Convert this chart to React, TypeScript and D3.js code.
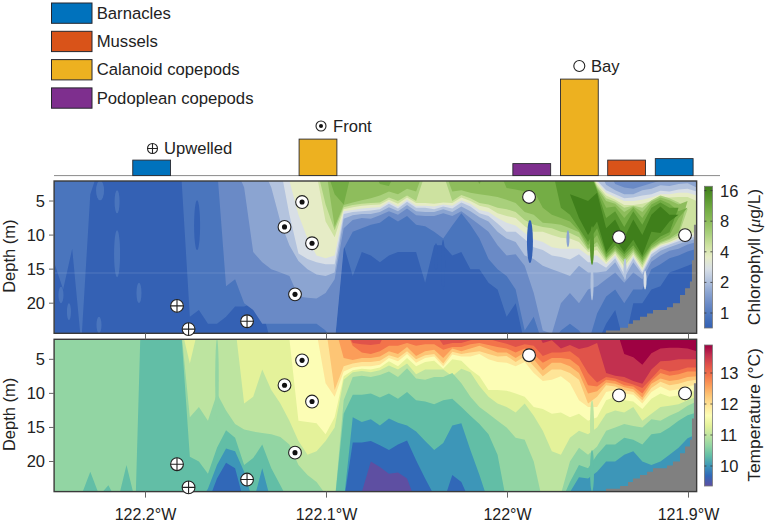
import React from "react";
import * as d3 from "d3";

const FONT = "'Liberation Sans', Arial, sans-serif";
const lonMin = -122.2505, lonMax = -121.8955;
const gridLons = d3.range(72).map(d3.scaleLinear().domain([0, 71]).range([lonMin, lonMax]));
const depthMin = 2.06, depthMax = 24.42;

const xTicks = [-122.2, -122.1, -122, -121.9];
const xTickLabels = ["122.2°W", "122.1°W", "122°W", "121.9°W"];
const depthTicks = [5, 10, 15, 20];
const chlTicks = [1, 2, 4, 8, 16];
const tempTicks = [10, 11, 12, 13];

const chlColors = ["#3461b4", "#4a75bd", "#6a8ac6", "#8ba4d1", "#b3c3de", "#d8dfe6", "#e6ecc6", "#cde2a0", "#a9d07c", "#8ebd5c", "#74ad45", "#58962e", "#3f7f1b"];
const tempColors = ["#5e4fa2", "#3168b8", "#3d96b8", "#62bea6", "#92d5a3", "#bde4a0", "#e4f29a", "#fcfdb5", "#fee598", "#fdc575", "#fb9d59", "#f3734a", "#e0534a", "#c2304f", "#9e0142"];

// isotherm depths (m) per grid column, coldest first
const T1 = [26,26,26,26,26,26,26,26,26,26,26,26, 26,26,26,26,26,26,26,26,26,26,26,26, 26,26,26,26,26,26,26,26,26,26,24.5,20, 20.8,21.8,21.6,22.5,26,26,26,26,26,26,26,26, 26,26,26,26,26,26,26,26,26,26,26,26, 26,26,26,26,26,26,26,26,26,26,26,26];
const T2 = [26,26,26,26,26,26,26,26,26,26,26,26, 26,26,26,26,26,26,22.5,20.2,21,26,26,26, 26,26,26,26,26,26,26,26,26,17.2,17.2,17, 17.6,18.3,17.5,16.9,19.8,22.5,25,26,22,23,26,26, 26,26,26,26,26,26,26,26,26,26,26,26, 26,26,26,26,26,26,26,26,26,26,26,26];
const T3 = [26,26,26,26,26,26,26,26,26,26,26,26, 26,26,26,26,26,24,20.5,18.1,18.5,21.5,26,21, 26,26,26,26,26,26,26,26,26,13.5,14.2,13.8, 14.7,13.7,14.3,14.7,15.6,17,18.3,17.3,14.7,14.4,18.3,22, 26,26,26,26,26,26,26,26,26,24.5,22.3,22.5, 21.5,20,20,19,18.5,20,20.5,20,19,18,16.6,16];
const T4 = [26,26,26,25,21.5,25,23.5,26,20.5,26,-20,-20, -20,-20,0,19.3,20,21.8,18,15.4,16.5,20.5,19.5,17.5, 21,23.5,26,26,26,26,26,26,13,10.2,10.2,10, 10.6,10,10.8,9.8,11,11.2,11.6,11,10.8,12,13.3,14.5, 16,19,26,26,26,26,26,26,26,23,20.5,21, 19,17.5,17.5,16.5,16.8,17.5,16,15.8,15,14,13.2,12.8];
const T5 = [0,0,0,0,0,0,0,0,0,0,0,0, 0,0,0,13.5,12,14,10,12.5,14.5,15.3,15.6,15.8, 16,16.4,17.5,20.5,22,23,24.8,26,11,7.6,7.4,7.6, 7.3,6.8,7.6,6.3,7.8,8,7.6,7.6,7,8.5,10.5,12, 13,14,15,16.5,16.8,20,26,26,24.8,20,18,19, 17.8,15.5,15,14.5,14.8,15,13.8,14,13.3,12.7,11.8,11.2];
const T6 = [0,0,0,0,0,0,0,0,0,0,0,0, 0,0,0,5.6,0,0,0,0,0,11.5,10.5,6.5, 9.5,11.5,14,17,19,18.5,17,15,8,6.9,6.7,6.9, 6.6,5.9,6.5,5.6,7.2,6.5,6.5,6.5,7.5,6.4,6.9,8.9, 10.5,11.5,12,12.8,11.5,13.3,15.5,18.5,19,16.5,15.5,16, 15,13,12.5,12.8,12,14,13,12,11.8,11.6,11,10.5];
const T7 = [0,0,0,0,0,0,0,0,0,0,0,0, 0,0,0,0,0,0,0,0,0,0,0,0, 0,-5,2,14,14.2,14.4,16,13.5,7.5,6.6,6.4,6.5, 6.2,5.3,6,4.8,6,5.4,5.2,6.4,5,5.2,6.5,7.5, 9.5,9.5,9.6,10,10.5,12,12.3,13,12.8,13.5,13,14, 13.5,11,10.5,11,11.2,12.3,10.8,10,10.5,10.3,10,9.5];
const T8 = [0,0,0,0,0,0,0,0,0,0,0,0, 0,0,0,0,0,0,0,0,0,0,0,0, 0,0,0,0,-5,1,8.5,10.5,6.8,6.2,6,6, 5.8,4.8,5.3,4.2,5.5,4.8,4.6,6,4.3,4.6,4.6,4.2, 5,5.4,5.5,6,5.4,7,8.2,8,7.5,8.5,11,12, 12,9.8,9.5,10,10.2,11.5,9.8,9,9.6,9.4,9,8.7];
const T9 = [0,0,0,0,0,0,0,0,0,0,0,0, 0,0,0,0,0,0,0,0,0,0,0,0, 0,0,0,0,0,-5,0,9.5,6,5.6,5.4,5.4, 5.2,4.4,4.8,3.8,5,4.4,4.2,5.6,3.9,4.2,4,3.8, 4.2,4.6,4.5,5.4,4.6,6,7.5,6.5,6.5,7,8,11.5, 10.5,8.8,9,9.5,9.8,11,9.2,8.3,8.8,8.6,8.2,8];
const T10 = [0,0,0,0,0,0,0,0,0,0,0,0, 0,0,0,0,0,0,0,0,0,0,0,0, 0,0,0,0,0,0,-5,0,4.8,5.1,4.8,4.8, 4.6,3.8,4.2,3.2,4.5,3.8,3.6,4.8,3.4,3.8,3.4,3, 3.5,4,4,4.8,4,5,6.6,5.5,5.5,6,7,10, 9.7,8.4,8.6,9.1,9.4,10.6,8.6,7.8,8.2,8,7.6,7.5];
const T11 = [0,0,0,0,0,0,0,0,0,0,0,0, 0,0,0,0,0,0,0,0,0,0,0,0, 0,0,0,0,0,0,0,0,0,3,4,4.2, 3.8,3,3,2.6,3,2.8,2.8,3.6,3.2,3.2,2.8,2.6, 2.9,3.2,3.4,4,3.4,4.2,5.5,4.8,4.8,5,6,8.8, 9,8,8.2,8.8,9,10,8.2,7,7.4,7.2,6.8,6.8];
const T12 = [0,0,0,0,0,0,0,0,0,0,0,0, 0,0,0,0,0,0,0,0,0,0,0,0, 0,0,0,0,0,0,0,0,0,2.6,2.8,2.9, 2.7,0,0,0,0,0,1,2.9,2.6,2.6,2.2,2, 2,2.4,2.7,3.2,2.8,3,4.5,4,4,3.8,4.8,7, 8.4,7.6,7.8,8.3,8.7,9.2,7.8,6.4,6.8,6.6,6.2,6.2];
const T13 = [0,0,0,0,0,0,0,0,0,0,0,0, 0,0,0,0,0,0,0,0,0,0,0,0, 0,0,0,0,0,0,0,0,0,0,0,0, 0,0,0,0,0,0,0,0,0,0,0,0, 0,0,0,0,0,0,2.6,2.2,3.4,2.9,3.5,3.2, 2.6,7,7.4,7.6,8.2,8.6,6.5,5.3,5.2,5,5,5];
const T14 = [0,0,0,0,0,0,0,0,0,0,0,0, 0,0,0,0,0,0,0,0,0,0,0,0, 0,0,0,0,0,0,0,0,0,0,0,0, 0,0,0,0,0,0,0,0,0,0,0,0, 0,0,0,0,0,0,0,0,0,0,0,0, 0,0,0,4.2,4.7,5.8,4.1,3.4,3.3,3.3,3.4,3.8];
const isotherms = [T1, T2, T3, T4, T5, T6, T7, T8, T9, T10, T11, T12, T13, T14];

// narrow streaks in the temperature section
const tempFleckLons = [-122.1605, -121.9533, -121.9533];
const tempFleckTops = [2, 11, 18.3];
const tempFleckBottoms = [14, 18.3, 24.4];
const tempFleckWidths = [1.8, 2, 2];
const tempFleckClasses = [4, 5, 3];

// chlorophyll: lower edge depth (m) of each class band per grid column
const L0 = [14,18,12,26,4,0,0,0,0,0,0,0, 0,0,0,22,21,23,23,22,20.5,20.5,20,21, 26,26,26,26,26,26,26,26,11.5,16,12.5,13, 14,13,12.5,12.5,12.5,17,11.5,11.5,13,12.5,15,15, 17,18,22,20,26,26,26,26,26,26,26,26, 26,23,21,26,20,20,18,17.5,15.5,15,14.5,14];
const L1 = [0,0,0,0,0,0,0,0,0,0,0,0, 0,0,0,0,0,0,0,17.5,16.5,20,21,23, 23,23,23,23,23,23,24,26,12,9.5,9,8.5, 8.2,7.2,8,7.2,8.5,8.7,9.5,10.5,8.6,6.8,8.5,10.5, 13.5,15,16,18,24,22,26,26,24,23,24,26, 21.5,19,18,20,18,18,15,14.3,13.4,13,12.4,12];
const L2 = [0,0,0,0,0,0,0,0,0,0,0,0, 0,0,0,0,0,0,0,0,0,3,12.5,14, 15,15.5,16,19,19.2,19.3,18.5,16.5,9,7.8,7.5,7.6, 7.1,6.5,7,6.1,7.1,7.2,7.2,6.8,7.2,6.5,7.5,8.5, 9.5,11.5,13,12.8,14.5,18.5,24,24.5,20,18.5,20,18, 17.5,16.5,15.5,17,15.5,16.5,13.9,13,12.3,12,11.4,11];
const L3 = [0,0,0,0,0,0,0,0,0,0,0,0, 0,0,0,0,0,0,0,0,0,0,0,0, 3,8,11.5,13.8,15,15.8,16,15.5,7.6,7.1,6.9,6.9, 6.6,5.9,6.5,5.6,6.5,6.6,6.6,6.2,6.6,5.8,6.5,7.4, 8,9.5,10.5,11,13,13.5,14.5,15,15.5,16,14.5,15.5, 15.5,15.3,14,16.3,14,15.8,13.3,12.3,11.8,11.3,10.9,10.5];
const L4 = [0,0,0,0,0,0,0,0,0,0,0,0, 0,0,0,0,0,0,0,0,0,0,0,0, 0,0,7,12.7,13.5,14,14.3,14.3,6.9,6.6,6.5,6.4, 6.2,5.4,6.1,5.1,6,6,6.2,5.8,6.1,5.2,5.8,6.8, 7.2,8.3,9.5,9.5,10.6,11.8,12.2,13,13.2,13.6,12.8,14, 14,14.8,13.4,15.8,13.4,15.5,12.8,11.9,11.4,10.9,10.5,10.2];
const L5 = [0,0,0,0,0,0,0,0,0,0,0,0, 0,0,0,0,0,0,0,0,0,0,0,0, 0,0,2,7,10.5,13,13.4,13,6.5,6.3,6.1,6, 5.9,5.1,5.8,4.8,5.7,5.7,5.8,5.5,5.7,4.9,5.4,6.3, 6.6,7.5,8.2,8.6,9.7,10.6,11,11.8,12,12,12,13, 13,14.3,13,15.2,13.1,15.2,12.5,11.6,11.2,10.6,10.2,9.9];
const L6 = [0,0,0,0,0,0,0,0,0,0,0,0, 0,0,0,0,0,0,0,0,0,0,0,0, 0,0,0,0,0,1,8,10.3,6.2,5.9,5.7,5.6, 5.5,4.8,5.4,4.5,5.3,5.3,5.4,5.2,5.3,4.5,5,5.7, 6,6.8,7.2,7.5,8.7,9.5,9.5,10,10.4,10.5,11,12.5, 12.2,14,12.7,14.6,12.8,14.8,12.3,11.4,11,10.4,9.8,9.5];
const L7 = [0,0,0,0,0,0,0,0,0,0,0,0, 0,0,0,0,0,0,0,0,0,0,0,0, 0,0,0,0,0,0,5.5,9.3,5.9,5.6,5.4,5.3, 5.2,4.5,5,4.2,5,1,0,1,5,4.1,4.6,5.3, 5.5,6,6.2,6.6,7.8,8.5,8.8,9,9.5,9.7,10.3,12.2, 11.6,13.7,12.4,14,12.5,14.4,12.1,11.2,10.7,10,6.2,5.5];
const L8 = [0,0,0,0,0,0,0,0,0,0,0,0, 0,0,0,0,0,0,0,0,0,0,0,0, 0,0,0,0,0,0,0,8.8,5.6,5.2,4.9,4.6, 4.2,3.6,4,3.2,3.6,0,0,0,3.6,3.4,3.8,4, 4.2,4.4,4.8,5.3,6.6,7,8.2,8.3,8.5,9,9.6,12, 11,13.4,12.2,13.6,12.2,14,11.9,11,10.5,9.6,5,5];
const L9 = [0,0,0,0,0,0,0,0,0,0,0,0, 0,0,0,0,0,0,0,0,0,0,0,0, 0,0,0,0,0,0,0,4,5.5,0,0,0, 2.5,2.8,0,0,0,0,0,0,0,0,0,2.5, 0,0,3.1,3.3,3.6,3.5,6,7,7.5,8,9.4,11.5, 10,13.2,11.9,13.2,11.9,13.7,11.6,10.7,10,7.5,6,6];
const L10 = [0,0,0,0,0,0,0,0,0,0,0,0, 0,0,0,0,0,0,0,0,0,0,0,0, 0,0,0,0,0,0,0,0,0,0,0,0, 0,0,0,0,0,0,0,0,0,0,0,0, 0,0,0,0,0,0,0,0,6,7,9,11, 9,12.8,11.5,12.8,11.5,13.3,11.3,10.2,9.6,6,6,6];
const L11 = [0,0,0,0,0,0,0,0,0,0,0,0, 0,0,0,0,0,0,0,0,0,0,0,0, 0,0,0,0,0,0,0,0,0,0,0,0, 0,0,0,0,0,0,0,0,0,0,0,0, 0,0,0,0,0,0,0,0,0,4,7.5,10, 8,12.5,10.7,12.5,10.7,13,9.5,9.7,8,7,7,7];
const chlLower = [L0, L1, L2, L3, L4, L5, L6, L7, L8, L9, L10, L11];

// upper edge of each class band in the bay columns (57..71); shallower columns reach the surface
const bayStart = 57;
const U0 = [0,0,0,0,0,0,0,0,0,0,0,0,0,0,0];
const U1 = [0,0,0,0,0,0,0,0,0,0,0,0,0,0,0];
const U2 = [0,0,0,0,0,2.5,3,3.2,2.8,2.4,2,2,0,0,2.5];
const U3 = [0,0,0,0,2.6,3.4,4,4,3.4,3.2,2.7,2.8,2.5,2.4,3];
const U4 = [0,0,0,2,3.4,4,4.6,4.5,4.2,4,3.5,3.6,3.3,3.2,3.6];
const U5 = [0,0,0,2.2,3.8,4.4,5,5,4.8,4.5,4,4,3.8,3.8,4.2];
const U6 = [0,0,0,2.6,4.2,4.8,5.6,5.6,5.4,5,4.5,4.5,4.4,4.4,5];
const U7 = [0,0,0,2.9,4.6,5.1,6,5.7,6,4.9,4.2,4.6,5.2,6.2,5.5];
const U8 = [0,0,0,3.1,5,5.4,6.6,5.8,6.6,5.1,4.5,4.9,5.5,5,5];
const U9 = [0,0,0,3.3,6,5.8,7.5,6,7.5,5.5,4.8,5.4,6.5,6,6];
const U10 = [0,0,0,3.5,7.5,6.5,8.8,6.5,8.5,6,5.2,6,6,6,6];
const U11 = [4,4.5,5,3.8,9,7.7,10.4,7.7,10,7,5.8,7,7,7,7];
const chlUpper = [U0, U1, U2, U3, U4, U5, U6, U7, U8, U9, U10, U11];

// narrow streaks in the chlorophyll section
const chlFleckLons = [-122.2467, -122.2423, -122.2257, -122.2251, -122.2157, -122.2157, -122.2036, -122.1715, -121.9876, -122.0395, -122.0356, -121.9666, -121.9533, -121.9533, -121.9351, -121.924];
const chlFleckTops = [17.6, 20, 22, 2, 9.3, 3.4, 17, 4.9, 7.8, 11.2, 10.7, 9.3, 8.7, 14.4, 13.4, 15.2];
const chlFleckBottoms = [20, 22.5, 24.4, 4.9, 16.2, 6.8, 20, 12.2, 14.1, 15.1, 18, 11.8, 14.4, 19.6, 16.6, 18];
const chlFleckWidths = [2.5, 2, 2.5, 4, 3, 2.5, 2.5, 3, 3, 2, 2, 1.5, 2, 1.5, 1.5, 1.5];
const chlFleckClasses = [1, 1, 1, 1, 1, 1, 1, 0, 0, 0, 0, 3, 11, 4, 4, 5];

const bottomLons = [-121.9456,-121.9378,-121.9334,-121.9307,-121.9268,-121.9229,-121.9196,-121.9119,-121.9086,-121.9047,-121.9019,-121.8992,-121.8981,-121.897,-121.8955];
const bottomDepths = [24,23.6,23,22.5,22,21.5,21,20.6,20,18.8,17.8,16.8,13.7,8.5,7.5];

const upwelledLons = [-122.1826, -122.1762, -122.1439];
const upwelledDepths = [20.4, 23.8, 22.65];
const frontLons = [-122.1135, -122.1232, -122.108, -122.1174];
const frontDepths = [5.15, 8.8, 11.2, 18.7];
const bayLons = [-121.9881, -121.9384, -121.9019];
const bayDepths = [4.4, 10.3, 10];

const larvaeNames = ["Barnacles", "Mussels", "Calanoid copepods", "Podoplean copepods"];
const larvaeColors = ["#0072bd", "#d95319", "#edb120", "#7e2f8e"];
const barLons = [-122.1966, -122.1047, -121.9866, -121.9603, -121.9342, -121.9079];
const barTaxa = [0, 2, 3, 2, 1, 0];
const barValues = [15.5, 36.5, 12, 96.5, 15.5, 17];

const x = d3.scaleLinear().domain([-122.2, -121.9]).range([145.5, 688.5]);
const barY = d3.scaleLinear().domain([0, 100]).range([175.6, 75.6]);
const P1 = { top: 181, bottom: 333.3 };
const P2 = { top: 339.3, bottom: 491.6 };
const yFor = (p: { top: number; bottom: number }) => d3.scaleLinear().domain([depthMin, depthMax]).range([p.top, p.bottom]);
const chlBarY = d3.scaleLog().base(2).domain([1, 16]).range([313, 190.6]);
const tempBarY = d3.scaleLinear().domain([10, 13]).range([466, 373]);

function DepthAxis({ p, title }: { p: { top: number; bottom: number }; title: string }) {
  const y = yFor(p);
  return (
    <g>
      {depthTicks.map((t) => (
        <g key={t}>
          <line x1={49} x2={54} y1={y(t)} y2={y(t)} stroke="#666" />
          <text x={45} y={y(t) + 6} textAnchor="end" fontSize={16.5} fill="#222">{t}</text>
        </g>
      ))}
      <text transform={`translate(15,${(p.top + p.bottom) / 2 - 1}) rotate(-90)`} textAnchor="middle" fontSize={16.5} fill="#222">{title}</text>
    </g>
  );
}

function Marker({ cx, cy, kind, r = 6.4 }: { cx: number; cy: number; kind: string; r?: number }) {
  return (
    <g>
      <circle cx={cx} cy={cy} r={r} fill="#fff" stroke="#222" strokeWidth={1.1} />
      {kind === "front" && <circle cx={cx} cy={cy} r={r * 0.4} fill="#111" />}
      {kind === "up" && (
        <path d={`M${cx - r},${cy}H${cx + r}M${cx},${cy - r}V${cy + r}`} stroke="#222" strokeWidth={1.1} fill="none" />
      )}
    </g>
  );
}

function Stations({ y }: { y: d3.ScaleLinear<number, number> }) {
  return (
    <g>
      {upwelledLons.map((l, i) => <Marker key={"u" + i} cx={x(l)} cy={y(upwelledDepths[i])} kind="up" />)}
      {frontLons.map((l, i) => <Marker key={"f" + i} cx={x(l)} cy={y(frontDepths[i])} kind="front" />)}
      {bayLons.map((l, i) => <Marker key={"b" + i} cx={x(l)} cy={y(bayDepths[i])} kind="bay" />)}
    </g>
  );
}

function Seafloor({ y, bottom }: { y: d3.ScaleLinear<number, number>; bottom: number }) {
  const d = d3.area<number>()
    .curve(d3.curveStepAfter)
    .x((l) => x(l))
    .y0(bottom + 1)
    .y1((_, i) => y(bottomDepths[i]))(bottomLons);
  return <path d={d as string} fill="#808080" />;
}

function Frame({ p, id, children, overlay }: { p: { top: number; bottom: number }; id: string; children: React.ReactNode; overlay: React.ReactNode }) {
  const left = x(lonMin), right = x(lonMax);
  return (
    <g>
      <clipPath id={id}><rect x={left} y={p.top} width={right - left} height={p.bottom - p.top} /></clipPath>
      <g clipPath={`url(#${id})`}>{children}</g>
      <rect x={left} y={p.top} width={right - left} height={p.bottom - p.top} fill="none" stroke="#3a3a3a" strokeWidth={1.4} />
      {overlay}
    </g>
  );
}

function Flecks({ y, lons, tops, bottoms, widths, classes, colors }: any) {
  return (
    <g>
      {lons.map((l: number, i: number) => (
        <ellipse key={i} cx={x(l)} cy={(y(tops[i]) + y(bottoms[i])) / 2} rx={widths[i]} ry={(y(bottoms[i]) - y(tops[i])) / 2} fill={colors[classes[i]]} />
      ))}
    </g>
  );
}

function ChlPanel() {
  const y = yFor(P1);
  const band = (k: number) =>
    d3.area<number>()
      .x((l) => x(l))
      .y0((_, i) => {
        const u = i < bayStart ? 0 : chlUpper[k][i - bayStart];
        return y(Math.min(u, chlLower[k][i]));
      })
      .y1((_, i) => y(chlLower[k][i]))(gridLons) as string;
  return (
    <Frame p={P1} id="clipChl" overlay={<Stations y={y} />}>
      <rect x={x(lonMin)} y={P1.top} width={x(lonMax) - x(lonMin)} height={P1.bottom - P1.top} fill={chlColors[0]} />
      {chlLower.map((_, k) => <path key={k} d={band(k)} fill={chlColors[k + 1]} />)}
      <Flecks y={y} lons={chlFleckLons} tops={chlFleckTops} bottoms={chlFleckBottoms} widths={chlFleckWidths} classes={chlFleckClasses} colors={chlColors} />
      <Seafloor y={y} bottom={P1.bottom} />
      <line x1={x(lonMin)} x2={x(lonMax)} y1={273} y2={273} stroke="#fff" strokeOpacity={0.14} />
    </Frame>
  );
}

function TempPanel() {
  const y = yFor(P2);
  const below = (k: number) =>
    d3.area<number>()
      .x((l) => x(l))
      .y0(P2.bottom + 2)
      .y1((_, i) => y(isotherms[k][i]))(gridLons) as string;
  const order = d3.range(isotherms.length).reverse();
  return (
    <Frame p={P2} id="clipTemp" overlay={<Stations y={y} />}>
      <rect x={x(lonMin)} y={P2.top} width={x(lonMax) - x(lonMin)} height={P2.bottom - P2.top} fill={tempColors[14]} />
      {order.map((k) => <path key={k} d={below(k)} fill={tempColors[k]} />)}
      <Flecks y={y} lons={tempFleckLons} tops={tempFleckTops} bottoms={tempFleckBottoms} widths={tempFleckWidths} classes={tempFleckClasses} colors={tempColors} />
      <Seafloor y={y} bottom={P2.bottom} />
    </Frame>
  );
}

function ColorBar({ id, colors, top, bottom, ticks, yScale, title, cy }: any) {
  const stops = colors.map((c: string, i: number) => (
    <stop key={i} offset={`${(i / (colors.length - 1)) * 100}%`} stopColor={c} />
  ));
  return (
    <g>
      <linearGradient id={id} x1="0" x2="0" y1="1" y2="0">{stops}</linearGradient>
      <rect x={704.4} y={top} width={8} height={bottom - top} fill={`url(#${id})`} stroke="#777" strokeWidth={0.8} />
      {ticks.map((t: number) => (
        <g key={t}>
          <path d={`M704.4,${yScale(t)}h2M712.4,${yScale(t)}h-2`} stroke="#333" strokeWidth={0.8} />
          <text x={720} y={yScale(t) + 6} fontSize={16.5} fill="#222">{t}</text>
        </g>
      ))}
      <text transform={`translate(759.5,${cy}) rotate(-90)`} textAnchor="middle" fontSize={17.4} fill="#222">{title}</text>
    </g>
  );
}

export default function App() {
  return (
    <svg width={765} height={523} viewBox="0 0 765 523" fontFamily={FONT} style={{ position: "absolute", left: 0, top: 0, display: "block" }}>
      <rect width={765} height={523} fill="#fff" />

      {larvaeNames.map((n, i) => {
        const top = 3 + i * 28.3;
        return (
          <g key={n}>
            <rect x={51.5} y={top} width={40.5} height={20.3} fill={larvaeColors[i]} stroke="#26262e" strokeWidth={1} />
            <text x={96.7} y={top + 15.6} fontSize={16.7} fill="#222">{n}</text>
          </g>
        );
      })}

      <line x1={54} x2={720} y1={175.6} y2={175.6} stroke="#8a8a8a" strokeWidth={1} />
      {barLons.map((l, i) => (
        <rect key={i} x={x(l) - 18.9} y={barY(barValues[i])} width={37.8} height={barY(0) - barY(barValues[i])} fill={larvaeColors[barTaxa[i]]} stroke="#2a2a30" strokeWidth={0.9} />
      ))}

      <Marker cx={152.5} cy={148.5} kind="up" r={5} />
      <text x={164} y={154} fontSize={16.6} fill="#222">Upwelled</text>
      <Marker cx={321} cy={126} kind="front" r={5} />
      <text x={333} y={131.5} fontSize={16.6} fill="#222">Front</text>
      <Marker cx={579.3} cy={66} kind="bay" r={5.5} />
      <text x={591} y={71.5} fontSize={16.6} fill="#222">Bay</text>

      <ChlPanel />
      <TempPanel />

      <DepthAxis p={P1} title="Depth (m)" />
      <DepthAxis p={P2} title="Depth (m)" />

      {xTicks.map((t, i) => (
        <g key={t}>
          <line x1={x(t)} x2={x(t)} y1={P1.bottom} y2={P2.top} stroke="#666" />
          <line x1={x(t)} x2={x(t)} y1={P2.bottom} y2={P2.bottom + 6} stroke="#666" />
          <text x={x(t)} y={520} textAnchor="middle" fontSize={16} fill="#222">{xTickLabels[i]}</text>
        </g>
      ))}

      <ColorBar id="gChl" colors={chlColors} top={186.3} bottom={328} ticks={chlTicks} yScale={chlBarY} cy={257}
        title={<>Chlorophyll (<tspan fontFamily="'Liberation Serif', serif" fontStyle="italic">μ</tspan>g/L)</>} />
      <ColorBar id="gTemp" colors={tempColors} top={345} bottom={486} ticks={tempTicks} yScale={tempBarY} cy={415}
        title="Temperature (°C)" />
    </svg>
  );
}
